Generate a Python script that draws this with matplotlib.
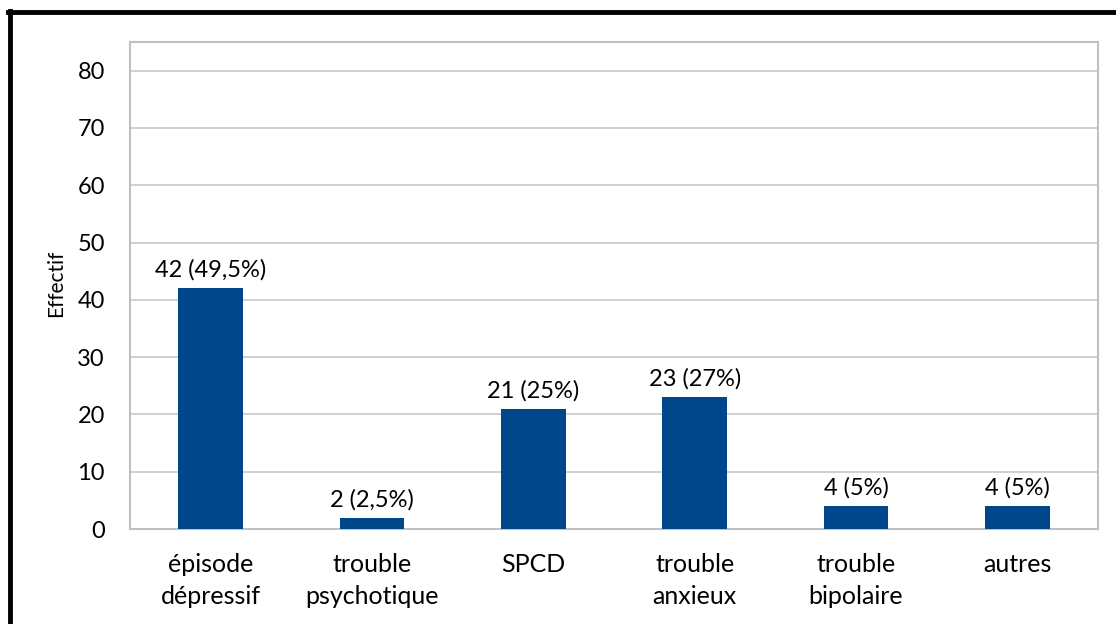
import matplotlib
matplotlib.use('Agg')
import matplotlib.pyplot as plt
from matplotlib.lines import Line2D

# data
categories = ['épisode\ndépressif', 'trouble\npsychotique', 'SPCD',
              'trouble\nanxieux', 'trouble\nbipolaire', 'autres']
counts = [42, 2, 21, 23, 4, 4]
labels = ['42 (49,5%)', '2 (2,5%)', '21 (25%)', '23 (27%)', '4 (5%)', '4 (5%)']
yticks = [0, 10, 20, 30, 40, 50, 60, 70, 80]

plt.rcParams['font.family'] = ['Lato', 'DejaVu Sans']

W, H = 1116, 624
fig = plt.figure(figsize=(W / 100, H / 100), dpi=100)
# plot area in pixels: left 130, right 1098, top 42, bottom 529
ax = fig.add_axes([130 / W, 1 - 529 / H, (1098 - 130) / W, (529 - 42) / H])

x = range(len(categories))
ax.bar(x, counts, width=0.4, color='#00468A', zorder=3)
for xi, v, lab in zip(x, counts, labels):
    ax.text(xi, v + 1.3, lab, ha='center', va='bottom', fontsize=17, color='black')

ax.set_xlim(-0.5, len(categories) - 0.5)
ax.set_ylim(0, 85)
ax.set_yticks(yticks)
ax.set_yticklabels([str(t) for t in yticks], fontsize=17)
ax.set_xticks(list(x))
ax.set_xticklabels(categories, fontsize=18, linespacing=1.5)
ax.tick_params(axis='both', length=0)
ax.tick_params(axis='x', pad=17)
ax.tick_params(axis='y', pad=18)
ax.yaxis.grid(True, color='#C8C8C8', linewidth=1.2, zorder=0)
for s in ax.spines.values():
    s.set_color('#C0C0C0')
    s.set_linewidth(1.5)
ax.set_ylabel('Effectif', fontsize=15)
ax.yaxis.set_label_coords(-64 / 968, (529 - 283) / 487)

# thick frame around the chart (top and left visible)
fig.add_artist(Line2D([8 / W, 1], [1 - 12 / H, 1 - 12 / H], transform=fig.transFigure,
                      color='black', linewidth=3.5))
fig.add_artist(Line2D([9.5 / W, 9.5 / W], [0, 1 - 10.5 / H], transform=fig.transFigure,
                      color='black', linewidth=3.5))

fig.savefig('out.png', dpi=100, facecolor='white')
